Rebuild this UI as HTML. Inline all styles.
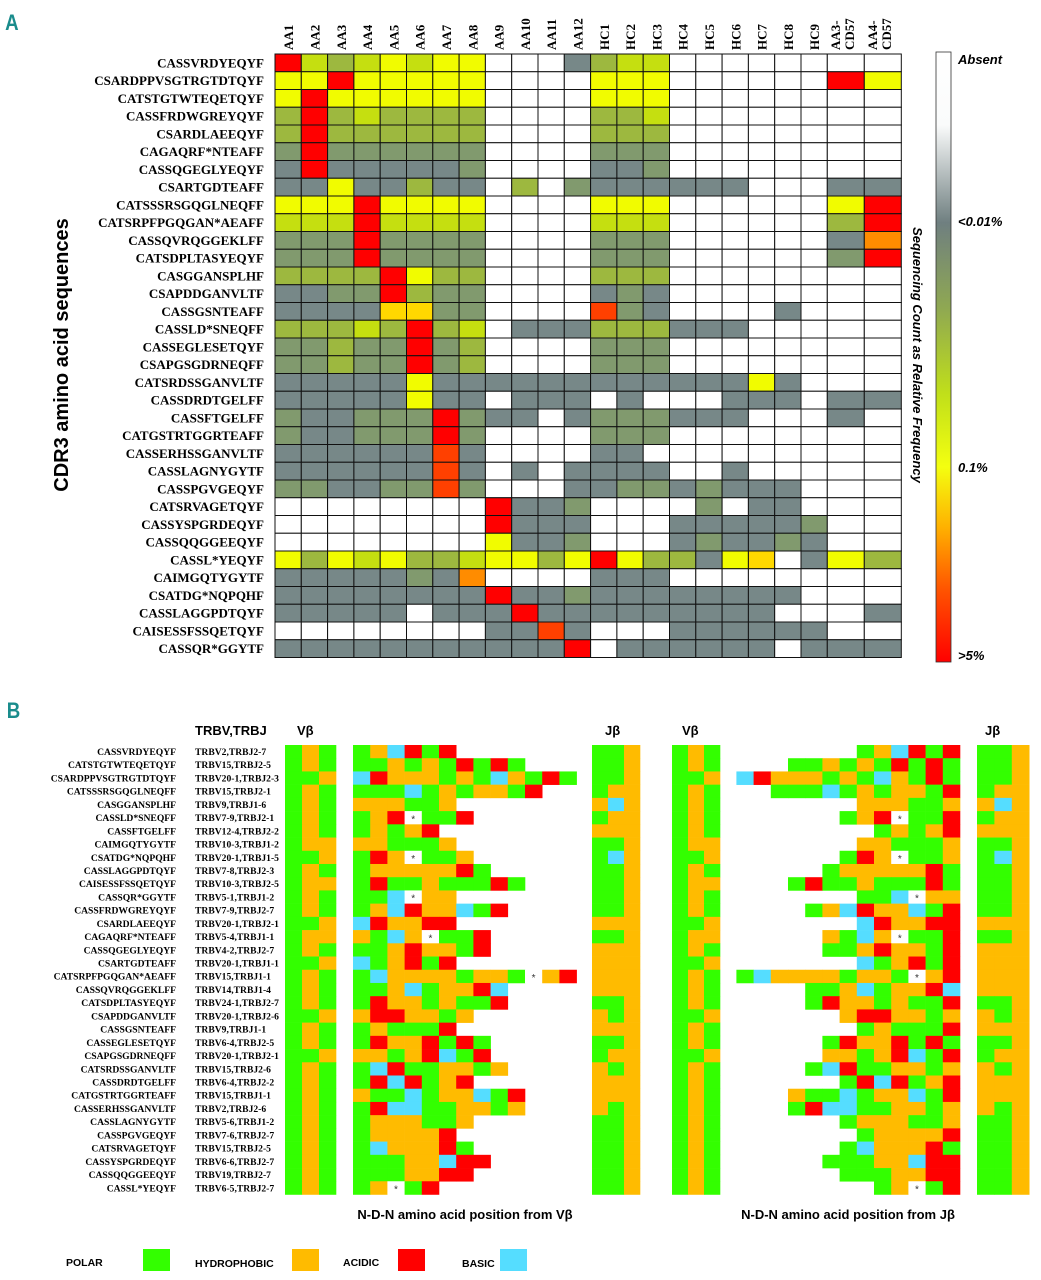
<!DOCTYPE html>
<html><head><meta charset="utf-8">
<style>
html,body{margin:0;padding:0;background:#fff;}
svg{display:block;}
</style></head>
<body>
<svg id="fig" width="1041" height="1280" viewBox="0 0 1041 1280" xmlns="http://www.w3.org/2000/svg">
<defs>
<linearGradient id="cbar" x1="0" y1="0" x2="0" y2="1">
<stop offset="0" stop-color="#ffffff"/>
<stop offset="0.12" stop-color="#fafbfb"/>
<stop offset="0.28" stop-color="#6f7f80"/>
<stop offset="0.42" stop-color="#8fa852"/>
<stop offset="0.56" stop-color="#c0df1a"/>
<stop offset="0.68" stop-color="#f4ff10"/>
<stop offset="0.78" stop-color="#ffb000"/>
<stop offset="0.88" stop-color="#ff5500"/>
<stop offset="1" stop-color="#ff0000"/>
</linearGradient>
</defs>
<text x="6" y="30" font-family="Liberation Sans, sans-serif" font-weight="bold" font-size="22" fill="#1a8c8c" transform="scale(0.85,1)">A</text>
<text x="8" y="718" font-family="Liberation Sans, sans-serif" font-weight="bold" font-size="22" fill="#1a8c8c" transform="scale(0.85,1)">B</text>
<text transform="translate(68,355) rotate(-90)" text-anchor="middle" font-family="Liberation Sans, sans-serif" font-weight="bold" font-size="20">CDR3 amino acid sequences</text>
<rect x="936" y="52" width="15" height="610" fill="url(#cbar)" stroke="#333" stroke-width="0.8"/>
<g font-family="Liberation Sans, sans-serif" font-weight="bold" font-style="italic" font-size="13">
<text x="958" y="64">Absent</text>
<text x="958" y="226">&lt;0.01%</text>
<text x="958" y="472">0.1%</text>
<text x="958" y="660">&gt;5%</text>
</g>
<text transform="translate(913,355) rotate(90)" text-anchor="middle" font-family="Liberation Sans, sans-serif" font-weight="bold" font-style="italic" font-size="13">Sequencing Count as Relative Frequency</text>
<g id="heat"></g>
<g id="panelb"></g>
<g font-family="Liberation Sans, sans-serif" font-weight="bold" font-size="13">
<text x="195" y="735">TRBV,TRBJ</text>
<text x="297" y="735">Vβ</text>
<text x="605" y="735">Jβ</text>
<text x="682" y="735">Vβ</text>
<text x="985" y="735">Jβ</text>
<text x="465" y="1219" text-anchor="middle">N-D-N amino acid position from Vβ</text>
<text x="848" y="1219" text-anchor="middle">N-D-N amino acid position from Jβ</text>
</g>
<g font-family="Liberation Sans, sans-serif" font-weight="bold" font-size="10.5">
<text x="66" y="1266">POLAR</text>
<rect x="143" y="1249" width="27" height="22" fill="#33ff00"/>
<text x="195" y="1267">HYDROPHOBIC</text>
<rect x="292" y="1249" width="27" height="22" fill="#ffbb00"/>
<text x="343" y="1266">ACIDIC</text>
<rect x="398" y="1249" width="27" height="22" fill="#ff0000"/>
<text x="462" y="1267">BASIC</text>
<rect x="500" y="1249" width="27" height="22" fill="#55ddff"/>
</g>
</svg>
<script>
// ---------- Panel A data ----------
const heatColumns = ["AA1","AA2","AA3","AA4","AA5","AA6","AA7","AA8","AA9","AA10","AA11","AA12","HC1","HC2","HC3","HC4","HC5","HC6","HC7","HC8","HC9","AA3-CD57","AA4-CD57"];
const heatRows = ["CASSVRDYEQYF","CSARDPPVSGTRGTDTQYF","CATSTGTWTEQETQYF","CASSFRDWGREYQYF","CSARDLAEEQYF","CAGAQRF*NTEAFF","CASSQGEGLYEQYF","CSARTGDTEAFF","CATSSSRSGQGLNEQFF","CATSRPFPGQGAN*AEAFF","CASSQVRQGGEKLFF","CATSDPLTASYEQYF","CASGGANSPLHF","CSAPDDGANVLTF","CASSGSNTEAFF","CASSLD*SNEQFF","CASSEGLESETQYF","CSAPGSGDRNEQFF","CATSRDSSGANVLTF","CASSDRDTGELFF","CASSFTGELFF","CATGSTRTGGRTEAFF","CASSERHSSGANVLTF","CASSLAGNYGYTF","CASSPGVGEQYF","CATSRVAGETQYF","CASSYSPGRDEQYF","CASSQQGGEEQYF","CASSL*YEQYF","CAIMGQTYGYTF","CSATDG*NQPQHF","CASSLAGGPDTQYF","CAISESSFSSQETQYF","CASSQR*GGYTF"];
// frequency level codes: W absent, g <0.01 gray, M olive-gray, G olive, L lime, Y yellow(0.1%), y gold, o orange, O red-orange, R >5%
const heatLevels = [
"RLGLYLYYWWWgGLLWWWWWWWW",
"YYRYYYYYWWWWYYYWWWWWWRY",
"YRYYYYYYWWWWYYYWWWWWWWW",
"GRGLGGGGWWWWGGLWWWWWWWW",
"GRGGGGGGWWWWGGGWWWWWWWW",
"MRMMMMMMWWWWMMMWWWWWWWW",
"gRgggggMWWWWggMWWWWWWWW",
"ggYggGggWGWMggggggWWWgg",
"YYYRYYYYWWWWYYYWWWWWWYR",
"LLLRLLLLWWWWLLLWWWWWWGR",
"MMMRMMMMWWWWMMMWWWWWWgo",
"MMMRMMMMWWWWMMMWWWWWWMR",
"GGGGRYGGWWWWGGGWWWWWWWW",
"ggMMRGMMWWWWgMgWWWWWWWW",
"ggggyyMMWWWWOMgWWWWgWWW",
"GGGLGRGLWgggGGGgggWWWWW",
"MMGMMRMGWWWWMMMWWWWWWWW",
"MMGMMRMGWWWWMMMWWWWWWWW",
"gggggYggggggggggggYgWWW",
"gggggYggWgggWgWWWgggWgg",
"MggMMMRMggWgMMMgggWWWgW",
"MggMMMRMWWWWMMMWWWWWWWW",
"ggggggOgWWWWggWWWWWWWWW",
"ggggggOgWgWggggWWgWWWWW",
"MMggMMOMWWWggMMgMgggWWW",
"WWWWWWWWRggMWWWWMWggWWW",
"WWWWWWWWRgggWWWgggggMWW",
"WWWWWWWWYggMWWWgMggMgWW",
"YGYLYGGLYYGYRYGGgYyWgYG",
"gggggMgoWWWWgggWWWWWWWW",
"ggggggggRggMggggggggWWW",
"gggggWgggRgggggggggWWWg",
"WWWWWWWWggOgWWWggggggWW",
"gggggggggggRWggggggWggg"
];
const levelColors = {W:"#ffffff",g:"#778888",M:"#819a6e",G:"#9db83f",L:"#c5df10",Y:"#f1fc00",y:"#ffd800",o:"#ff8c00",O:"#ff4000",R:"#ff0000"};

// ---------- Panel B data ----------
const bSeqs = ["CASSVRDYEQYF","CATSTGTWTEQETQYF","CSARDPPVSGTRGTDTQYF","CATSSSRSGQGLNEQFF","CASGGANSPLHF","CASSLD*SNEQFF","CASSFTGELFF","CAIMGQTYGYTF","CSATDG*NQPQHF","CASSLAGGPDTQYF","CAISESSFSSQETQYF","CASSQR*GGYTF","CASSFRDWGREYQYF","CSARDLAEEQYF","CAGAQRF*NTEAFF","CASSQGEGLYEQYF","CSARTGDTEAFF","CATSRPFPGQGAN*AEAFF","CASSQVRQGGEKLFF","CATSDPLTASYEQYF","CSAPDDGANVLTF","CASSGSNTEAFF","CASSEGLESETQYF","CSAPGSGDRNEQFF","CATSRDSSGANVLTF","CASSDRDTGELFF","CATGSTRTGGRTEAFF","CASSERHSSGANVLTF","CASSLAGNYGYTF","CASSPGVGEQYF","CATSRVAGETQYF","CASSYSPGRDEQYF","CASSQQGGEEQYF","CASSL*YEQYF"];
const bGenes = ["TRBV2,TRBJ2-7","TRBV15,TRBJ2-5","TRBV20-1,TRBJ2-3","TRBV15,TRBJ2-1","TRBV9,TRBJ1-6","TRBV7-9,TRBJ2-1","TRBV12-4,TRBJ2-2","TRBV10-3,TRBJ1-2","TRBV20-1,TRBJ1-5","TRBV7-8,TRBJ2-3","TRBV10-3,TRBJ2-5","TRBV5-1,TRBJ1-2","TRBV7-9,TRBJ2-7","TRBV20-1,TRBJ2-1","TRBV5-4,TRBJ1-1","TRBV4-2,TRBJ2-7","TRBV20-1,TRBJ1-1","TRBV15,TRBJ1-1","TRBV14,TRBJ1-4","TRBV24-1,TRBJ2-7","TRBV20-1,TRBJ2-6","TRBV9,TRBJ1-1","TRBV6-4,TRBJ2-5","TRBV20-1,TRBJ2-1","TRBV15,TRBJ2-6","TRBV6-4,TRBJ2-2","TRBV15,TRBJ1-1","TRBV2,TRBJ2-6","TRBV5-6,TRBJ1-2","TRBV7-6,TRBJ2-7","TRBV15,TRBJ2-5","TRBV6-6,TRBJ2-7","TRBV19,TRBJ2-7","TRBV6-5,TRBJ2-7"];
// residue classes: P polar, H hydrophobic, A acidic, B basic, S stop(*)
const bVb = ["PHP","PHP","PPH","PHP","PHP","PHP","PHP","PHH","PPH","PHP","PHH","PHP","PHP","PPH","PHH","PHP","PPH","PHP","PHP","PHP","PPH","PHP","PHP","PPH","PHP","PHP","PHP","PHP","PHP","PHP","PHP","PHP","PHP","PHP"];
const bNdn = ["PHBAPA","PPHPHPAPAP","BAHHHPHPBHPAP","PPPBPHPHHPA","HHHPPH","PHASPPA","PHPHA","HHPPPH","PAHSPPH","PHHHHHAP","PAPPHPPPAP","PPBSHH","PHBAHHBPA","BAHHAA","HPBHSPPA","PPHAHHPA","BPHAPA","PBHHHHPHHPSHA","PPHBPHHAB","PAHHPHPPA","HAAHHPH","PHPPPA","PAHHAPAP","HHPHABPA","PBAPPHHPH","PABAPHA","HPPBPHHBPA","PABBPPHHPH","PHHHPPH","PHHHHA","PBHHHAP","PPPHHBAA","PPPHHAA","PHSPA"];
const bJb = ["PPH","PPH","PPH","PHH","HBH","PHH","HHH","PPH","PBH","PPH","PPH","PPH","PPH","HHH","PPH","HHH","HHH","HHH","HHH","PPH","HPH","HHH","PPH","PHH","HPH","HHH","HHH","HPH","PPH","PPH","PPH","PPH","PPH","PPH"];
const classColors = {P:"#33ff00",H:"#ffbb00",A:"#ff0000",B:"#55ddff",S:"#ffffff"};

const NS = "http://www.w3.org/2000/svg";
function mk(tag, attrs, parent){const e=document.createElementNS(NS,tag);for(const k in attrs)e.setAttribute(k,attrs[k]);parent.appendChild(e);return e;}

// ---------- Panel A axes ----------
const gx0 = 275, gy0 = 54, rowH = 17.75;
function colX(i){return i<21 ? gx0 + i*26.3 : gx0 + 21*26.3 + (i-21)*37;}
function colW(i){return i<21 ? 26.3 : 37;}
function rowY(j){return gy0 + j*rowH;}
const heat = document.getElementById("heat");
heatRows.forEach((name,j)=>{
  const t = mk("text",{x:264,y:rowY(j)+rowH/2+4.5,"text-anchor":"end","font-family":"Liberation Serif, serif","font-weight":"bold","font-size":"13"},heat);
  
  
  t.textContent = name;
  const s = heatLevels[j];
  for(let i=0;i<heatColumns.length;i++){
    const r = mk("rect",{x:colX(i),y:rowY(j),width:colW(i),height:rowH,fill:levelColors[s[i]]||"#fff",stroke:"#111","stroke-width":"1"},heat);
    
    
  }
});
heatColumns.forEach((c,i)=>{
  const cx = colX(i)+colW(i)/2;
  const parts = c.indexOf("-CD57")>0 ? [c.replace("CD57",""),"CD57"] : [c];
  parts.forEach((p,k)=>{
    const off = parts.length>1 ? (k===0?-6:8) : 5;
    const t = mk("text",{transform:"translate("+(cx+off)+",50) rotate(-90)","font-family":"Liberation Serif, serif","font-weight":"bold","font-size":"13"},heat);
    
    
    t.textContent = p;
  });
});

// ---------- Panel B ----------
const pb = document.getElementById("panelb");
const by0 = 745, bRowH = 13.22, cw = 17.2;
function bRowY(j){return by0 + j*bRowH;}
function drawCell(x,y,w,code){
  const r = mk("rect",{x:x,y:y,width:w+0.3,height:bRowH+0.3,fill:classColors[code]},pb);
  
  
  if(code==="S"){
    const t = mk("text",{x:x+w/2,y:y+bRowH-2,"text-anchor":"middle","font-family":"Liberation Sans, sans-serif","font-size":"10",fill:"#333"},pb);
    
    
    t.textContent = "*";
  }
}
bSeqs.forEach((seq,j)=>{
  const y = bRowY(j);
  const t1 = mk("text",{x:176,y:y+10,"text-anchor":"end","font-family":"Liberation Serif, serif","font-weight":"bold","font-size":"9.6"},pb);
  
  
  t1.textContent = seq;
  const t2 = mk("text",{x:195,y:y+10,"font-family":"Liberation Serif, serif","font-weight":"bold","font-size":"9.6"},pb);
  
  
  t2.textContent = bGenes[j];
  for(let k=0;k<3;k++){ drawCell(285+k*17,y,17,bVb[j][k]); drawCell(672+k*16,y,16,bVb[j][k]); }
  for(let k=0;k<3;k++){ drawCell(592+k*16,y,16,bJb[j][k]); drawCell(977+k*17.4,y,17.4,bJb[j][k]); }
  const s = bNdn[j];
  for(let k=0;k<s.length;k++){
    drawCell(353+k*cw,y,cw,s[k]);
    drawCell(960-(s.length-k)*cw,y,cw,s[k]);
  }
});
</script>
</body></html>
